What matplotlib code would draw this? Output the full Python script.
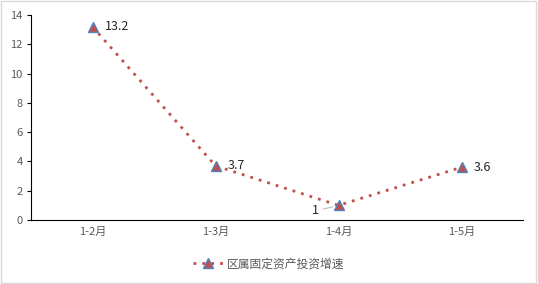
import matplotlib
matplotlib.use("Agg")
import matplotlib.pyplot as plt
from matplotlib.patches import Rectangle

plt.rcParams['font.family'] = ['Noto Sans CJK SC', 'DejaVu Sans']

categories = ["1-2月", "1-3月", "1-4月", "1-5月"]
values = [13.2, 3.7, 1, 3.6]
labels = ["13.2", "3.7", "1", "3.6"]
series_name = "区属固定资产投资增速"
yticks = [0, 2, 4, 6, 8, 10, 12, 14]

fig = plt.figure(figsize=(5.38, 2.84), dpi=100)
fig.patches.append(Rectangle((0.002, 0.004), 0.995, 0.992, transform=fig.transFigure,
                             fill=False, edgecolor="#D9D9D9", linewidth=1))
ax = fig.add_axes([31/538, 64/284, 492/538, 205/284])
x = list(range(len(categories)))
ax.plot(x, values, color="#C0504D", linestyle=(0, (1, 2.2)), linewidth=2.0,
        marker="^", markersize=7, markerfacecolor="#C0504D",
        markeredgecolor="#4F81BD", markeredgewidth=1, label=series_name)

ax.set_xlim(-0.5, len(categories) - 0.5)
ax.set_ylim(0, 14)
ax.set_yticks(yticks)
ax.set_xticks(x)
ax.set_xticklabels(categories)
ax.tick_params(axis="both", labelsize=8, colors="#595959", length=0, pad=5)
ax.tick_params(axis="y", length=3, direction="out", color="#000000", pad=3)
for s in ["top", "right"]:
    ax.spines[s].set_visible(False)
ax.spines["left"].set_color("#000000")
ax.spines["bottom"].set_color("#000000")

for i, (v, t) in enumerate(zip(values, labels)):
    if i == 2:
        ax.annotate(t, xy=(i, v), xytext=(-14, -4), textcoords="offset points",
                    fontsize=9, color="#262626", ha="right", va="center",
                    arrowprops=dict(arrowstyle="-", color="#BFBFBF", lw=0.8, shrinkA=1, shrinkB=4))
    else:
        ax.annotate(t, xy=(i, v), xytext=(9, 0), textcoords="offset points",
                    fontsize=9, color="#262626", ha="left", va="center")

leg = fig.legend(loc="center", bbox_to_anchor=(0.5, 20/284), ncol=1,
                 frameon=False, fontsize=8.5, handlelength=2.5, handletextpad=0.4)
for t in leg.get_texts():
    t.set_color("#595959")

fig.savefig("out.png", dpi=100)
